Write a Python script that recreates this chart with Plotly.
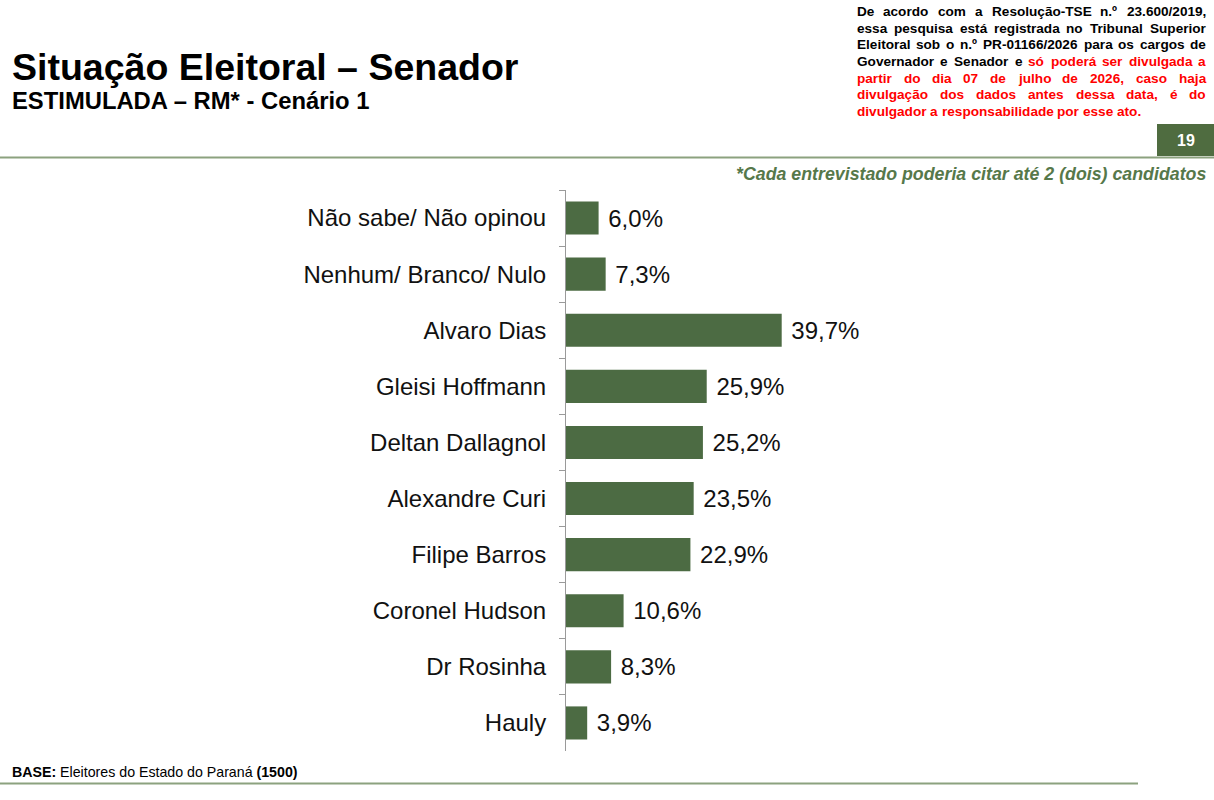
import plotly.graph_objects as go

# ---------------- data ----------------
categories = [
    "Não sabe/ Não opinou",
    "Nenhum/ Branco/ Nulo",
    "Alvaro Dias",
    "Gleisi Hoffmann",
    "Deltan Dallagnol",
    "Alexandre Curi",
    "Filipe Barros",
    "Coronel Hudson",
    "Dr Rosinha",
    "Hauly",
]
values = [6.0, 7.3, 39.7, 25.9, 25.2, 23.5, 22.9, 10.6, 8.3, 3.9]
value_labels = ["\u00a0" + f"{v:.1f}".replace(".", ",") + "%" for v in values]

title_text = "Situação Eleitoral – Senador"
subtitle_text = "ESTIMULADA – RM* - Cenário 1"
note_text = "*Cada entrevistado poderia citar até 2 (dois) candidatos"
page_number = "19"
disclaimer_lines = [
    ("De acordo com a Resolução-TSE n.º 23.600/2019,", 99),
    ("essa pesquisa está registrada no Tribunal Superior", 99),
    ("Eleitoral sob o n.º PR-01166/2026 para os cargos de", 99),
    ("Governador e Senador e só poderá ser divulgada a", 4),
    ("partir do dia 07 de julho de 2026, caso haja", 0),
    ("divulgação dos dados antes dessa data, é do", 0),
    ("divulgador a responsabilidade por esse ato.", 0),
]

# ---------------- layout geometry ----------------
W, H = 1214, 800
ML, MR, MT, MB = 566, 322, 190, 49
PW = W - ML - MR
PH = H - MT - MB
FONT = "Liberation Sans, Arial, sans-serif"
BAR = "#4c6b43"
RULE = "#8ca27f"
GREEN_BOX = "#4f6c40"


def px(x):
    return (x - ML) / PW


def py(y):
    return 1 - (y - MT) / PH


fig = go.Figure(
    go.Bar(
        x=values,
        y=categories,
        orientation="h",
        marker=dict(color=BAR, line=dict(width=0)),
        text=value_labels,
        textposition="outside",
        textfont=dict(family=FONT, size=24, color="#111111"),
        cliponaxis=False,
        width=0.59,
        hoverinfo="skip",
    )
)

fig.update_layout(
    width=W,
    height=H,
    margin=dict(l=ML, r=MR, t=MT, b=MB, pad=0),
    paper_bgcolor="white",
    plot_bgcolor="white",
    showlegend=False,
    font=dict(family=FONT, color="#111111"),
    xaxis=dict(range=[0, 60], visible=False, fixedrange=True),
    yaxis=dict(
        autorange="reversed",
        showline=True,
        linecolor="#9a9a9a",
        linewidth=1,
        ticks="outside",
        tickson="boundaries",
        ticklen=6,
        tickcolor="#9a9a9a",
        tickwidth=1,
        showgrid=False,
        tickfont=dict(family=FONT, size=24, color="#111111"),
        ticklabelstandoff=14,
        fixedrange=True,
    ),
)

annotations = []
shapes = []

# title & subtitle
annotations.append(dict(x=px(11), y=py(67), xref="paper", yref="paper", xanchor="left",
                        yanchor="middle", showarrow=False, borderpad=0,
                        text="<b>" + title_text + "</b>",
                        font=dict(family=FONT, size=37.5, color="#000000")))
annotations.append(dict(x=px(11), y=py(100), xref="paper", yref="paper", xanchor="left",
                        yanchor="middle", showarrow=False, borderpad=0,
                        text="<b>" + subtitle_text + "</b>",
                        font=dict(family=FONT, size=23.8, color="#000000")))

# justified disclaimer (Arial Bold metrics)
AB = {' ': 278, ',': 278, '.': 278, '-': 333, '/': 278, 'º': 365, '(': 333, ')': 333,
      ':': 333, '*': 389, 'a': 556, 'b': 611, 'c': 556, 'd': 611, 'e': 556, 'f': 333,
      'g': 611, 'h': 611, 'i': 278, 'j': 278, 'k': 556, 'l': 278, 'm': 889, 'n': 611,
      'o': 611, 'p': 611, 'q': 611, 'r': 389, 's': 556, 't': 333, 'u': 611, 'v': 556,
      'w': 778, 'x': 556, 'y': 556, 'z': 500, 'ç': 556, 'ã': 556, 'á': 556, 'é': 556,
      'ó': 611, 'D': 722, 'R': 722, 'T': 611, 'S': 667, 'E': 667, 'P': 667, 'G': 778}


def tw(s, size):
    return sum(AB.get(c, 556) for c in s) * size / 1000.0


DSIZE = 13.6
DL, DR = 856, 1205
line_y0, line_dy = 11.5, 16.7
for i, (line, nblack) in enumerate(disclaimer_lines):
    words = line.split(" ")
    widths = [tw(w, DSIZE) for w in words]
    last = i == len(disclaimer_lines) - 1
    if last or len(words) < 2:
        gap = tw(" ", DSIZE)
    else:
        gap = (DR - DL - sum(widths)) / (len(words) - 1)
    x = DL
    yc = line_y0 + i * line_dy
    for k, (w, wd) in enumerate(zip(words, widths)):
        color = "#000000" if k < nblack else "#ff0000"
        annotations.append(dict(x=px(x), y=py(yc), xref="paper", yref="paper",
                                xanchor="left", yanchor="middle", showarrow=False,
                                borderpad=0, text="<b>" + w + "</b>",
                                font=dict(family=FONT, size=DSIZE, color=color)))
        x += wd + gap

# page number box
shapes.append(dict(type="rect", xref="paper", yref="paper", x0=px(1157), x1=px(1214),
                   y0=py(156), y1=py(124), fillcolor=GREEN_BOX, line=dict(width=0), layer="above"))
annotations.append(dict(x=px(1186), y=py(141), xref="paper", yref="paper", xanchor="center",
                        yanchor="middle", showarrow=False, borderpad=0,
                        text="<b>" + page_number + "</b>",
                        font=dict(family=FONT, size=16, color="#ffffff")))

# header and footer rules
shapes.append(dict(type="line", xref="paper", yref="paper", x0=px(0), x1=px(1214),
                   y0=py(157.5), y1=py(157.5), line=dict(color=RULE, width=2)))
shapes.append(dict(type="line", xref="paper", yref="paper", x0=px(0), x1=px(1138),
                   y0=py(783.5), y1=py(783.5), line=dict(color=RULE, width=2)))

# note
annotations.append(dict(x=px(1207), y=py(174), xref="paper", yref="paper", xanchor="right",
                        yanchor="middle", showarrow=False, borderpad=0,
                        text="<b><i>" + note_text + "</i></b>",
                        font=dict(family=FONT, size=17.8, color="#56784a")))

# base footnote
annotations.append(dict(x=px(11), y=py(772), xref="paper", yref="paper", xanchor="left",
                        yanchor="middle", showarrow=False, borderpad=0,
                        text="<b>BASE:</b> Eleitores do Estado do Paraná <b>(1500)</b>",
                        font=dict(family=FONT, size=14.2, color="#000000")))

fig.update_layout(annotations=annotations, shapes=shapes)
fig.write_html("out.html")
